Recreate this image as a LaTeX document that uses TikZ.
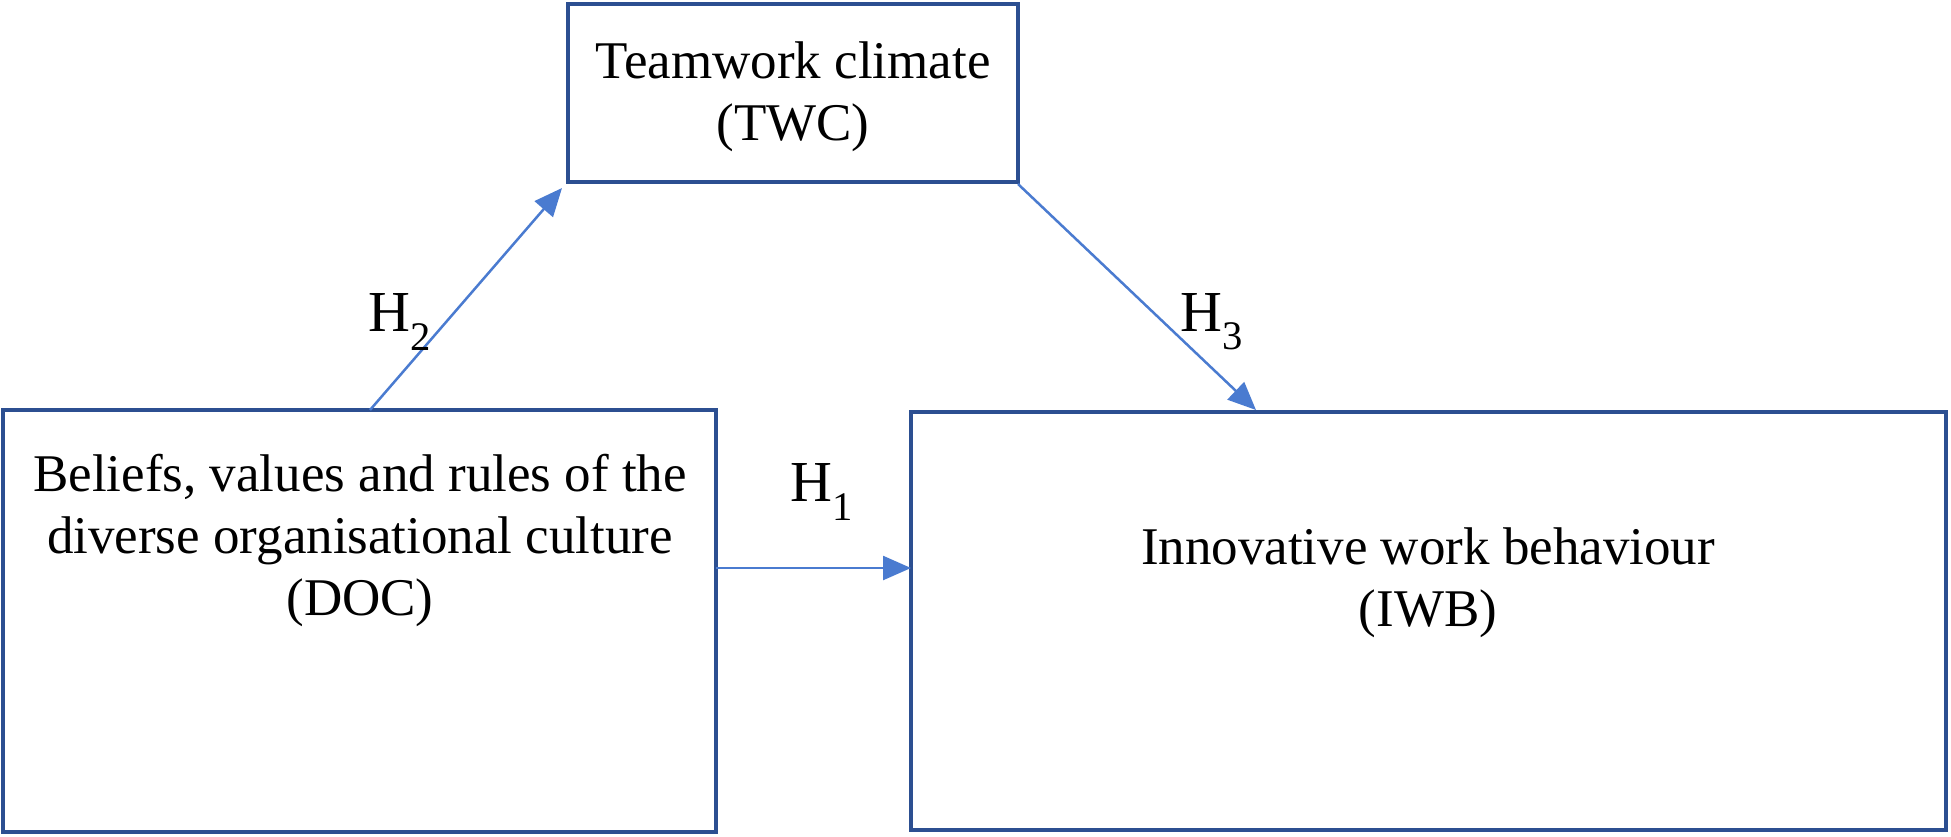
\documentclass[tikz,border=0pt]{standalone}
\usepackage{fontspec}
\setmainfont{Liberation Serif}
\usetikzlibrary{arrows.meta}
\begin{document}
\begin{tikzpicture}[x=1pt,y=-1pt,
  box/.style={draw=boxblue,line width=4pt},
  lbl/.style={align=center,font=\fontsize{53}{62}\selectfont},
  arr/.style={draw=arrblue,line width=2.5pt,-{Triangle[length=28pt,width=24pt]}},
  hl/.style={font=\fontsize{58}{62}\selectfont}]
\definecolor{boxblue}{HTML}{2C4F91}
\definecolor{arrblue}{HTML}{4A7BD0}
\useasboundingbox[fill=white] (0,0) rectangle (1951,836);
\draw[box] (568,4) rectangle (1018,182);
\draw[box] (3,410) rectangle (716,832);
\draw[box] (911,412) rectangle (1946,830);
\node[lbl] (twc) at (793,97) {Teamwork climate\\(TWC)};
\node[lbl] (doc) at (360,540) {Beliefs, values and rules of the\\diverse organisational culture\\(DOC)};
\node[lbl] (iwb) at (1428,583) {Innovative work behaviour\\(IWB)};
\coordinate (a1) at (370,410); \coordinate (a2) at (562,188);
\coordinate (b1) at (1018,184); \coordinate (b2) at (1256,410);
\coordinate (c1) at (716,568); \coordinate (c2) at (911,568);
\draw[arr] (a1) -- (a2);
\draw[arr] (b1) -- (b2);
\draw[arr] (c1) -- (c2);
\node[hl] (h2) at (400,322) {H\textsubscript{2}};
\node[hl] (h3) at (1212,322) {H\textsubscript{3}};
\node[hl] (h1) at (822,492) {H\textsubscript{1}};
\end{tikzpicture}
\end{document}
